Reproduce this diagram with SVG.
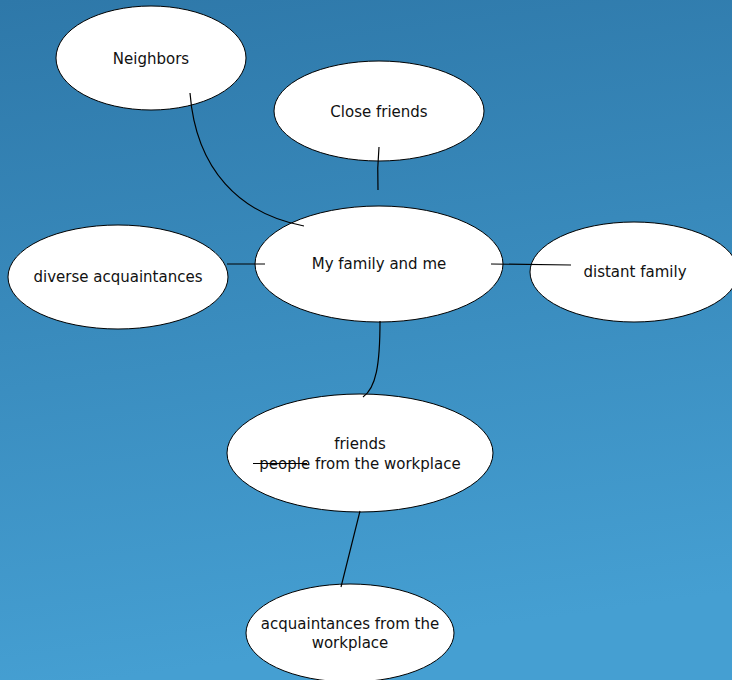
<svg xmlns="http://www.w3.org/2000/svg" width="732" height="680" viewBox="0 0 732 680">
<defs>
<linearGradient id="bg" x1="0" y1="0" x2="0.15" y2="1">
<stop offset="0" stop-color="#2e78a9"/>
<stop offset="1" stop-color="#459fd2"/>
</linearGradient>
<style>
.node ellipse{fill:#fff;stroke:#000;stroke-width:1}
.node text{font-family:"DejaVu Sans","Liberation Sans",sans-serif;font-size:15px;fill:#111;text-anchor:middle}
#connectors path{fill:none;stroke:#000;stroke-width:1.2}
</style>
</defs>
<rect x="0" y="0" width="732" height="680" fill="url(#bg)"/>
<g id="n-neighbors" class="node">
<ellipse cx="151" cy="58" rx="95" ry="52"/>
<text x="151" y="64">Neighbors</text>
</g>
<g id="n-close" class="node">
<ellipse cx="379" cy="111" rx="105" ry="50"/>
<text x="379" y="117">Close friends</text>
</g>
<g id="n-diverse" class="node">
<ellipse cx="118" cy="277" rx="110" ry="52"/>
<text x="118" y="282">diverse acquaintances</text>
</g>
<g id="n-distant" class="node">
<ellipse cx="634" cy="272" rx="104" ry="50"/>
<text x="635" y="277">distant family</text>
</g>
<g id="n-family" class="node">
<ellipse cx="379" cy="264" rx="124" ry="58"/>
<text x="379" y="269">My family and me</text>
</g>
<g id="n-friends" class="node">
<ellipse cx="360" cy="453" rx="133" ry="59"/>
<text x="360" y="449">friends</text>
<text x="360" y="469">people from the workplace</text>
<path d="M253,463.5 L307,463.5" stroke="#000" stroke-width="1.2"/>
</g>
<g id="n-acq" class="node">
<ellipse cx="350" cy="633" rx="104" ry="49"/>
<text x="350" y="629">acquaintances from the</text>
<text x="350" y="648">workplace</text>
</g>
<g id="connectors">
<path d="M190,93 C196,170 240,214 304,226"/>
<path d="M379,147 Q377,168 378,190"/>
<path d="M227,264 L265,264"/>
<path d="M491,264 L571,265"/>
<path d="M380,321 C380,365 376,388 363,397"/>
<path d="M360,511 L341,587"/>
</g>
</svg>
